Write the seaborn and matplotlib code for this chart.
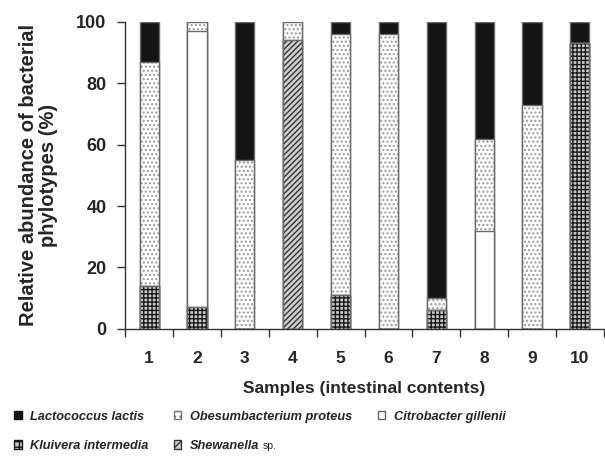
import numpy as np
import pandas as pd
import seaborn as sns
import matplotlib.pyplot as plt
from matplotlib.patches import Patch
from matplotlib.ticker import FixedLocator

# Data (relative abundance, % per sample)
samples = ['1', '2', '3', '4', '5', '6', '7', '8', '9', '10']
lactococcus = [13, 0, 45, 0, 4, 4, 90, 38, 27, 7]
obesumbacterium = [73, 3, 55, 6, 85, 96, 4, 30, 73, 0]
citrobacter = [0, 90, 0, 0, 0, 0, 0, 32, 0, 0]
kluivera = [14, 7, 0, 0, 11, 0, 6, 0, 0, 93]
shewanella = [0, 0, 0, 94, 0, 0, 0, 0, 0, 0]

sns.set_style('ticks')
plt.rcParams['font.family'] = ['Liberation Sans', 'DejaVu Sans']
plt.rcParams['font.weight'] = 'bold'
plt.rcParams['hatch.linewidth'] = 1.0

df = pd.DataFrame({'sample': samples, 'Kluivera': kluivera, 'Shewanella': shewanella,
                   'Citrobacter': citrobacter, 'Obesumbacterium': obesumbacterium,
                   'Lactococcus': lactococcus})

# layers bottom -> top, with (face, hatch, hatch colour)
layers = [
    ('Kluivera', '#c8c8c8', '++++', '#1a1a1a'),
    ('Shewanella', '#cfcfcf', '//////', '#333333'),
    ('Citrobacter', 'white', '', '#666666'),
    ('Obesumbacterium', 'white', '....', '#9a9a9a'),
    ('Lactococcus', '#141414', '', '#141414'),
]
cols = [l[0] for l in layers]
cum = df[cols].cumsum(axis=1)

fig = plt.figure(figsize=(6.05, 4.58), dpi=100)
ax = fig.add_axes([0.207, 0.282, 0.791, 0.670])

# draw stacked bars from the top cumulative layer down
for name, face, hatch, hcol in reversed(layers):
    sns.barplot(x=df['sample'], y=cum[name], ax=ax, color=face, saturation=1,
                width=0.4, errorbar=None, hatch=hatch, edgecolor=hcol, linewidth=0)
    sns.barplot(x=df['sample'], y=cum[name], ax=ax, fill=False, width=0.4,
                errorbar=None, edgecolor='#6a6a6a', linewidth=1.0)

ax.set_xlim(-0.5, 9.5)
ax.set_ylim(0, 100)
ax.set_yticks([0, 20, 40, 60, 80, 100])
ax.xaxis.set_minor_locator(FixedLocator(np.arange(-0.5, 10, 1)))
ax.tick_params(axis='x', which='major', length=0, pad=16, labelsize=12.5)
ax.tick_params(axis='x', which='minor', length=6, width=1, direction='out', color='#333333')
ax.tick_params(axis='y', length=6, width=1, color='#333333', labelsize=13, pad=7.5)
for t in ax.get_xticklabels() + ax.get_yticklabels():
    t.set_fontweight('bold')
for s in ['left', 'bottom']:
    ax.spines[s].set_color('#333333')
    ax.spines[s].set_linewidth(1)
sns.despine(ax=ax)

ax.set_xlabel('Samples (intestinal contents)', fontsize=12.5, fontweight='bold', labelpad=11)
ax.set_ylabel('Relative abundance of bacterial\nphylotypes (%)', fontsize=14.5,
              fontweight='bold', linespacing=1.1)
ax.yaxis.set_label_coords(-0.14, 0.5)

# legend order filled column-wise so rows read L O C / K S
handles = [
    Patch(facecolor='#141414', edgecolor='#141414'),
    Patch(facecolor='#c8c8c8', edgecolor='#1a1a1a', hatch='+++'),
    Patch(facecolor='white', edgecolor='#777777', hatch='...'),
    Patch(facecolor='#cfcfcf', edgecolor='#333333', hatch='///'),
    Patch(facecolor='white', edgecolor='#666666'),
]
labels = ['Lactococcus lactis', 'Kluivera intermedia', 'Obesumbacterium proteus',
          'Shewanella', 'Citrobacter gillenii']
leg = fig.legend(handles, labels, ncol=3, loc='lower left', bbox_to_anchor=(0.004, -0.012),
                 frameon=False, fontsize=9.2, handlelength=0.6, handleheight=0.6,
                 handletextpad=0.65, columnspacing=2.0, labelspacing=1.35)
for t in leg.get_texts():
    t.set_fontstyle('italic')
    t.set_fontweight('bold')

fig.canvas.draw()
bb = leg.get_texts()[3].get_window_extent()
x0, y0 = fig.transFigure.inverted().transform((bb.x1, bb.y0))
fig.text(x0 + 0.006, y0 + 0.003, 'sp.', fontsize=7.5, fontweight='normal', va='bottom')

fig.savefig('out.png', dpi=100)
